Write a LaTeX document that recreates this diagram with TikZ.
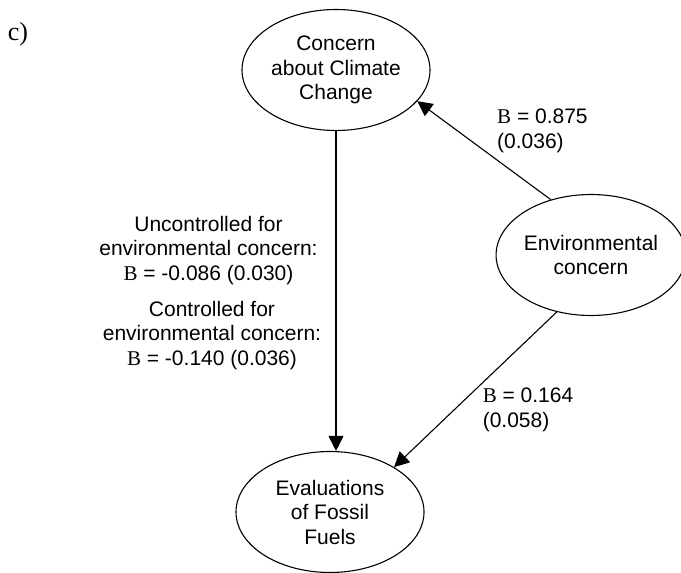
\documentclass[tikz,border=0pt]{standalone}
\usepackage{fontspec}
\setmainfont{Liberation Sans}
\newfontfamily\serifB{Liberation Serif}
\usetikzlibrary{arrows.meta, shapes.geometric}
\newcommand{\coefB}{{\serifB B}}

\begin{document}
\begin{tikzpicture}[
  x=1pt, y=-1pt,
  lat/.style={draw, line width=1.1pt, ellipse, inner sep=0pt, minimum width=188pt, minimum height=121pt, align=center, font=\fontsize{21}{24.5}\selectfont},
  lbl/.style={inner sep=0pt, font=\fontsize{21}{24.5}\selectfont},
  arr/.style={-{Triangle[length=15pt, width=15pt]}, line width=1.1pt}
]
\useasboundingbox (0,0) rectangle (681,573);

\node[lbl, font=\serifB\fontsize{26}{28}\selectfont] (tag) at (18,34) {c)};

\node[lat] (climate) at (336,70) {Concern\\about Climate\\Change};
\node[lat, minimum width=178pt] (env) at (591,255) {Environmental\\concern};
\node[lat] (fossil) at (330,512) {Evaluations\\of Fossil\\Fuels};

\draw[arr] (climate.south) -- (climate.south |- fossil.north);
\draw[arr] (env.126) -- (climate.-21.6);
\draw[arr] (env.239.5) -- (fossil.35.3);

\node[lbl, align=center] (unctrl) at (208.5,250.5) {Uncontrolled for\\environmental concern:\\\coefB{} = -0.086 (0.030)};
\node[lbl, align=center] (ctrl) at (212,335.5) {Controlled for\\environmental concern:\\\coefB{} = -0.140 (0.036)};
\node[lbl, align=left, anchor=west] (bclimate) at (497,131) {\coefB{} = 0.875\\(0.036)};
\node[lbl, align=left, anchor=west] (bfossil) at (482.6,410) {\coefB{} = 0.164\\(0.058)};
\end{tikzpicture}
\end{document}
